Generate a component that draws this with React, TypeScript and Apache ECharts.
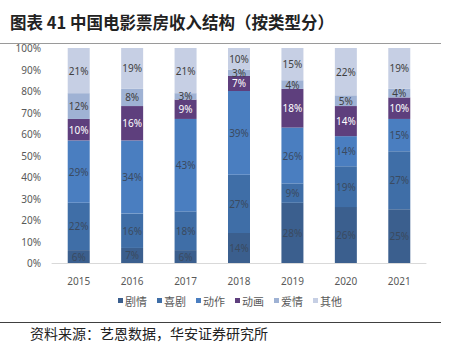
import React, { useEffect, useRef } from "react";
import * as echarts from "echarts";

const years = ["2015", "2016", "2017", "2018", "2019", "2020", "2021"];
const seriesNames = ["剧情", "喜剧", "动作", "动画", "爱情", "其他"];
const drama = [6, 7, 6, 14, 28, 26, 25];
const comedy = [22, 16, 18, 27, 9, 19, 27];
const action = [29, 34, 43, 39, 26, 14, 15];
const animation = [10, 16, 9, 7, 18, 14, 10];
const romance = [12, 8, 3, 3, 4, 5, 4];
const other = [21, 19, 21, 10, 15, 22, 19];
const yTicks = [0, 10, 20, 30, 40, 50, 60, 70, 80, 90, 100];

const colors = ["#3b5f8e", "#3f6ea7", "#4a7ec0", "#5e3f7d", "#9fb2d4", "#c6cfe4"];
const labelColors = ["#3a4a60", "#3a4a60", "#3a4a60", "#ffffff", "#404040", "#404040"];

export default function App() {
  const ref = useRef<HTMLDivElement>(null);
  useEffect(() => {
    const chart = echarts.init(ref.current!, null, { renderer: "svg" });
    const data = [drama, comedy, action, animation, romance, other];
    chart.setOption({
      animation: false,
      backgroundColor: "#ffffff",
      grid: { left: 52, right: 23, top: 48, bottom: 92 },
      legend: {
        data: seriesNames,
        top: 290,
        left: 113,
        itemWidth: 5,
        itemHeight: 5,
        itemGap: 10,
        icon: "rect",
        textStyle: { color: "#595959", fontSize: 11, fontFamily: "Noto Sans CJK SC", padding: [0, 0, 0, -3] },
      },
      xAxis: {
        type: "category",
        data: years,
        axisLine: { lineStyle: { color: "#d9d9d9" } },
        axisTick: { show: false },
        axisLabel: { color: "#595959", fontSize: 10, margin: 13, fontFamily: "Noto Sans" },
      },
      yAxis: {
        type: "value",
        min: yTicks[0],
        max: yTicks[yTicks.length - 1],
        interval: 10,
        splitLine: { show: false },
        axisLine: { show: false },
        axisTick: { show: false },
        axisLabel: { color: "#595959", fontSize: 10, formatter: "{value}%", margin: 11, fontFamily: "Noto Sans" },
      },
      series: seriesNames.map((name, i) => ({
        name,
        type: "bar",
        stack: "total",
        barWidth: 22,
        data: data[i],
        itemStyle: { color: colors[i] },
        label: {
          show: true,
          position: "inside",
          formatter: "{c}%",
          color: labelColors[i],
          fontSize: 10,
          fontFamily: "Noto Sans",
        },
      })),
      graphic: [
        {
          type: "text",
          left: 10,
          top: 14,
          style: {
            text: "图表 41 中国电影票房收入结构（按类型分）",
            fontSize: 16.5,
            fontWeight: "bold",
            fill: "#222222",
            fontFamily: "Noto Sans CJK SC",
          },
        },
        {
          type: "line",
          shape: { x1: 0, y1: 43.5, x2: 441, y2: 43.5 },
          style: { stroke: "#9a9a9a", lineWidth: 1 },
        },
        {
          type: "line",
          shape: { x1: 0, y1: 322.5, x2: 441, y2: 322.5 },
          style: { stroke: "#404040", lineWidth: 1 },
        },
        {
          type: "text",
          left: 30,
          top: 326,
          style: {
            text: "资料来源：艺恩数据，华安证券研究所",
            fontSize: 14,
            fill: "#222222",
            fontFamily: "Noto Sans CJK SC",
          },
        },
      ],
    });
    return () => chart.dispose();
  }, []);
  return <div ref={ref} style={{ width: 449, height: 355, position: "fixed", left: 0, top: 0 }} />;
}
